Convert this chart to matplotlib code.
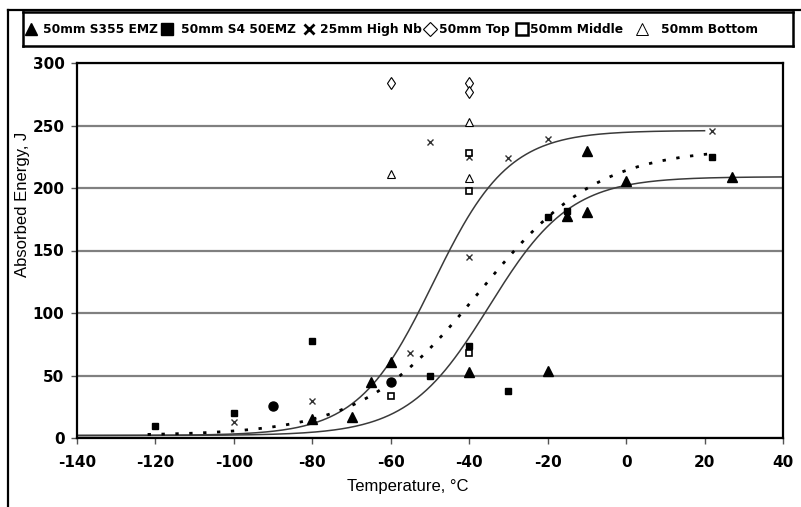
import numpy as np
import matplotlib
matplotlib.use("Agg")
import matplotlib.pyplot as plt
from matplotlib.lines import Line2D

plt.rcParams["axes.unicode_minus"] = False

# Charpy impact results: test temperature (C) and absorbed energy (J)
s355_temp = [-80, -70, -65, -60, -40, -20, -15, -10, -10, 0, 27]
s355_energy = [15, 17, 44.5, 61, 52.5, 54, 178, 181, 230, 206, 209]

s4_temp = [-120, -100, -80, -50, -40, -30, -20, -15, 22]
s4_energy = [10, 20, 78, 50, 74, 38, 177, 182, 225]

highnb_temp = [-100, -80, -55, -50, -40, -40, -30, -20, 22]
highnb_energy = [13, 30, 68, 237, 145, 225, 224, 239, 246]

top_temp = [-60, -40, -40]
top_energy = [284, 284, 277]

middle_temp = [-60, -40, -40, -40]
middle_energy = [34, 68, 198, 228]

bottom_temp = [-60, -40, -40]
bottom_energy = [211, 208, 253]

other_temp = [-90, -60]
other_energy = [26, 44.5]

# tanh transition fits: lower shelf, upper shelf, mid temperature, width, range
fit_highnb = (2, 246, -49.2, 19.2, (-140, 20))
fit_s355 = (2, 209, -34.9, 20.7, (-140, 40))
fit_s4 = (2, 232, -37.4, 30.3, (-122, 22))

x_ticks = list(range(-140, 41, 20))
y_ticks = list(range(0, 301, 50))

legend_labels = ["50mm S355 EMZ", "50mm S4 50EMZ", "25mm High Nb",
                 "50mm Top", "50mm Middle", "50mm Bottom"]


def tanh_curve(fit):
    lower, upper, t0, width, (t_min, t_max) = fit
    t = np.linspace(t_min, t_max, 300)
    return t, lower + (upper - lower) / 2 * (1 + np.tanh((t - t0) / width))


W, H = 801, 507
fig = plt.figure(figsize=(W / 100, H / 100), dpi=100)
ax = fig.add_axes([77 / W, 1 - 438 / H, (783 - 77) / W, (438 - 63) / H])

ax.set_xlim(-140, 40)
ax.set_ylim(0, 300)
ax.set_xticks(x_ticks)
ax.set_yticks(y_ticks)
ax.yaxis.grid(True, color="#808080", lw=1.6)
ax.set_axisbelow(True)
for sp in ax.spines.values():
    sp.set_linewidth(1.6)
    sp.set_color("black")
ax.tick_params(axis="both", direction="out", length=4, width=1,
               color="#555555", labelsize=11)
ax.tick_params(axis="x", pad=8)
ax.tick_params(axis="y", pad=5)
for lab in ax.get_xticklabels() + ax.get_yticklabels():
    lab.set_fontweight("bold")
    lab.set_family("DejaVu Sans")

# fitted transition curves
t, e = tanh_curve(fit_highnb)
ax.plot(t, e, color="#3a3a3a", lw=1.1)
t, e = tanh_curve(fit_s355)
ax.plot(t, e, color="#3a3a3a", lw=1.1)
t, e = tanh_curve(fit_s4)
ax.plot(t, e, color="black", lw=2, ls=(0, (1.2, 3.8)))

# test points
ax.plot(s355_temp, s355_energy, ls="none", marker="^", ms=6.5, color="black")
ax.plot(s4_temp, s4_energy, ls="none", marker="s", ms=5, color="black")
ax.plot(highnb_temp, highnb_energy, ls="none", marker="x", ms=5, mew=1,
        color="#333333")
ax.plot(top_temp, top_energy, ls="none", marker="d", ms=6, mfc="white",
        mec="black", mew=0.8)
ax.plot(middle_temp, middle_energy, ls="none", marker="s", ms=5, mfc="white",
        mec="black", mew=1.2)
ax.plot(bottom_temp, bottom_energy, ls="none", marker="^", ms=6, mfc="white",
        mec="black", mew=0.8)
ax.plot(other_temp, other_energy, ls="none", marker="o", ms=6.5, color="black")

fig.text(23 / W, 1 - 204 / H, "Absorbed Energy, J", rotation=90,
         ha="center", va="center", fontsize=12, family="Liberation Sans")
fig.text(408 / W, 1 - 487 / H, "Temperature, \u00b0C",
         ha="center", va="center", fontsize=12, family="Liberation Sans")

# legend strip across the top
lg = fig.add_axes([23 / W, 1 - 46 / H, (793 - 23) / W, (46 - 12) / H])
lg.set_xlim(23, 793)
lg.set_ylim(46, 12)
lg.set_xticks([])
lg.set_yticks([])
for sp in lg.spines.values():
    sp.set_linewidth(1.8)
    sp.set_color("black")

handles = [
    dict(marker="^", ms=9, color="black"),
    dict(marker="s", ms=8, color="black"),
    dict(marker="x", ms=7, mew=2, color="black"),
    dict(marker="D", ms=7, mfc="white", mec="black", mew=0.8),
    dict(marker="s", ms=9, mfc="white", mec="black", mew=1.8),
    dict(marker="^", ms=9, mfc="white", mec="black", mew=0.7),
]
marker_x = [31, 167, 309, 430, 522, 642]
text_x = [43, 181, 320, 439, 530, 661]
for style, mx, tx, label in zip(handles, marker_x, text_x, legend_labels):
    lg.plot([mx], [29], ls="none", **style)
    lg.text(tx, 29.5, label, ha="left", va="center", fontsize=8.8,
            fontweight="bold", family="DejaVu Sans")

# outer frame edges
fig.add_artist(Line2D([8 / W, 8 / W], [0, 1 - 10 / H], transform=fig.transFigure,
                      color="black", lw=1.6))
fig.add_artist(Line2D([8 / W, 1], [1 - 10 / H, 1 - 10 / H],
                      transform=fig.transFigure, color="black", lw=1.6))

fig.savefig("out.png", dpi=100)
